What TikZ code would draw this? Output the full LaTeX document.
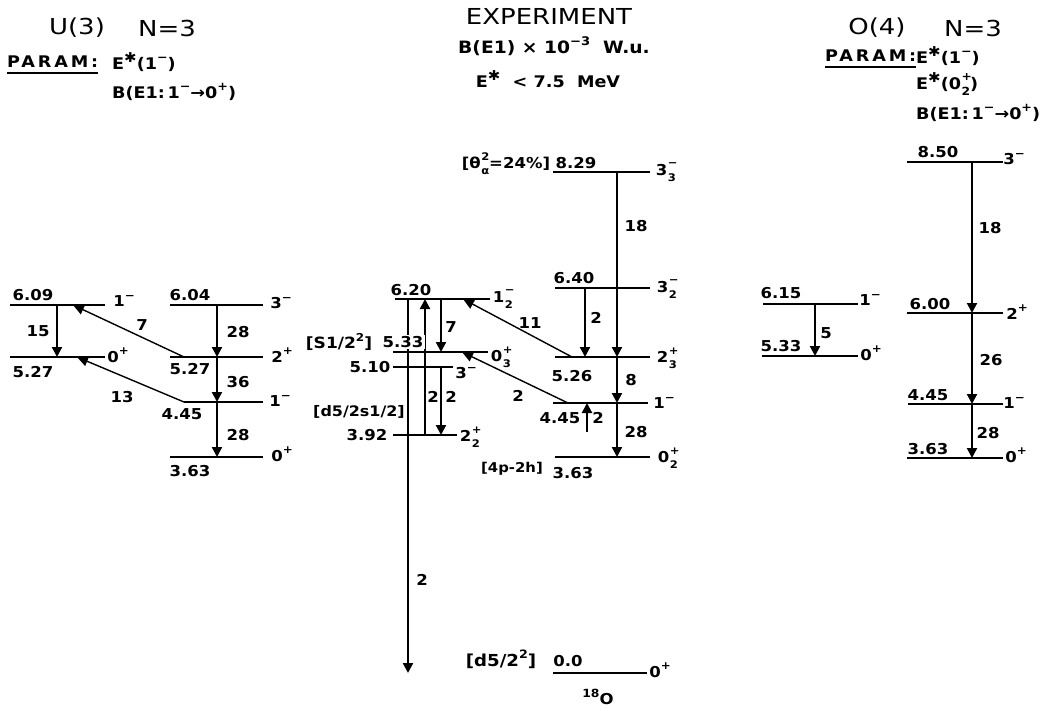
\documentclass[tikz,border=0pt]{standalone}
\usepackage{fontspec}
\setmainfont{DejaVu Sans}
\newfontfamily\wf{DejaVu Sans}[FakeStretch=1.1]
\newfontfamily\hf{DejaVu Sans}[FakeStretch=1.18]
\newfontfamily\pf{DejaVu Sans}[FakeStretch=1.1,LetterSpace=18]
\usetikzlibrary{arrows.meta}
\newcommand\sps[2]{#1\raisebox{0.5em}{\scalebox{0.72}{#2}}}
\newcommand\sss[3]{#1\kern0.5pt\rlap{\raisebox{0.55em}{\scalebox{0.7}{#2}}}\raisebox{-0.4em}{\scalebox{0.7}{#3}}}
\newcommand\Es{E\raisebox{0.42em}{\scalebox{0.85}{✱}}}
\begin{document}
\begin{tikzpicture}[x=1pt,y=-1pt,
 lvl/.style={line width=2.8pt},
 arr/.style={line width=2.1pt,-{Triangle[length=10pt,width=10pt]}},
 diag/.style={line width=1.4pt,-{Triangle[length=11pt,width=10pt]}},
 num/.style={font=\wf\bfseries\fontsize{15}{15}\selectfont,inner sep=0pt},
 jp/.style={font=\wf\bfseries\fontsize{15}{15}\selectfont,inner sep=0pt},
 hdr/.style={font=\hf\fontsize{22}{22}\selectfont,inner sep=0pt},
 prm/.style={font=\wf\bfseries\fontsize{16}{16}\selectfont,inner sep=0pt,anchor=west},
 brk/.style={font=\wf\bfseries\fontsize{15}{15}\selectfont,inner sep=0pt},
]
\useasboundingbox (0,0) rectangle (1050,710);

% ---------------- headers ----------------
\node[hdr] (u3) at (77,28) {U(3)};
\node[hdr] (un) at (167,28) {N=3};
\node[prm,font=\pf\bfseries\fontsize{16}{16}\selectfont] (upar) at (7,62) {PARAM:};
\draw[line width=2.4pt] ([yshift=-5pt]upar.south west) -- ([yshift=-5pt]upar.south east);
\node[prm] (up1) at (112,62) {\Es(\sps{1}{−})};
\node[prm] (up2) at (112,92) {B(E1:\,\sps{1}{−}→\sps{0}{+})};

\node[inner sep=0pt,font=\hf\fontsize{22}{22}\selectfont] (ex1) at (549,16) {EXPERIMENT};
\node[inner sep=0pt,anchor=west,font=\wf\bfseries\fontsize{17}{17}\selectfont] (ex2) at (458,46) {B(E1) × 10\raisebox{0.5em}{\scalebox{0.7}{−3}}\ \ W.u.};
\node[inner sep=0pt,font=\wf\bfseries\fontsize{16}{16}\selectfont] (ex3) at (548,79) {\Es\ \ <\ 7.5\ \ MeV};

\node[hdr] (o4) at (877,28) {O(4)};
\node[hdr] (on) at (973,28) {N=3};
\node[prm,font=\pf\bfseries\fontsize{16}{16}\selectfont] (opar) at (825,56) {PARAM:};
\draw[line width=2.4pt] ([yshift=-5pt]opar.south west) -- ([yshift=-5pt]opar.south east);
\node[prm] (op1) at (916,56) {\Es(\sps{1}{−})};
\node[prm] (op2) at (916,84) {\Es(\sss{0}{+}{2})};
\node[prm] (op3) at (916,113) {B(E1:\,\sps{1}{−}→\sps{0}{+})};

% ---------------- U(3) ----------------
\coordinate (A1) at (10,305);  \draw[lvl] (A1) -- ++(95,0);
\coordinate (A2) at (10,357);  \draw[lvl] (A2) -- ++(95,0);
\coordinate (B1) at (170,305); \draw[lvl] (B1) -- ++(93,0);
\coordinate (B2) at (170,357); \draw[lvl] (B2) -- ++(93,0);
\coordinate (B3) at (184,402); \draw[lvl] (B3) -- ++(79,0);
\coordinate (B4) at (170,457); \draw[lvl] (B4) -- ++(93,0);
\coordinate (ca) at (57,0);
\coordinate (cb) at (217,0);
\coordinate (d1s) at (184,0);
\coordinate (d1e) at (73,0);
\coordinate (d2e) at (77,0);
\draw[arr] (ca |- A1) -- (ca |- A2);
\draw[arr] (cb |- B1) -- (cb |- B2);
\draw[arr] (cb |- B2) -- (cb |- B3);
\draw[arr] (cb |- B3) -- (cb |- B4);
\draw[diag] (d1s |- B2) -- (d1e |- A1);
\draw[diag] (d1s |- B3) -- (d2e |- A2);
\node[num] (t609) at (33,295) {6.09};
\node[jp] (s1a) at (124,301) {\sps{1}{−}};
\node[num] (b15) at (38,331) {15};
\node[jp] (s0a) at (118,355) {\sps{0}{+}};
\node[num] (t527a) at (33,372) {5.27};
\node[num] (b7a) at (142,325) {7};
\node[num] (b13) at (122,397) {13};
\node[num] (t604) at (190,295) {6.04};
\node[jp] (s3b) at (281,303) {\sps{3}{−}};
\node[num] (b28a) at (238,332) {28};
\node[jp] (s2b) at (282,355) {\sps{2}{+}};
\node[num] (t527b) at (190,369) {5.27};
\node[num] (b36) at (238,382) {36};
\node[jp] (s1b) at (280,401) {\sps{1}{−}};
\node[num] (t445a) at (182,414) {4.45};
\node[num] (b28b) at (238,435) {28};
\node[jp] (s0b) at (282,454) {\sps{0}{+}};
\node[num] (t363a) at (190,471) {3.63};

% ---------------- Experiment ----------------
\coordinate (E829) at (553,172); \draw[lvl] (E829) -- ++(97,0);
\coordinate (E640) at (555,288); \draw[lvl] (E640) -- ++(95,0);
\coordinate (E526) at (555,357); \draw[lvl] (E526) -- ++(95,0);
\coordinate (E445) at (553,403); \draw[lvl] (E445) -- ++(95,0);
\coordinate (E363) at (555,457); \draw[lvl] (E363) -- ++(95,0);
\coordinate (E620) at (395,299); \draw[lvl] (E620) -- ++(95,0);
\coordinate (E533) at (393,352); \draw[lvl] (E533) -- ++(95,0);
\coordinate (E510) at (393,367); \draw[lvl] (E510) -- ++(60,0);
\coordinate (E392) at (393,435); \draw[lvl] (E392) -- ++(64,0);
\coordinate (E00) at (553,673);  \draw[lvl] (E00) -- ++(94,0);

\coordinate (cm) at (617,0);
\coordinate (cl) at (585,0);
\coordinate (cu) at (587,0);
\coordinate (cg) at (408,0);
\coordinate (cup) at (425,0);
\coordinate (cdn) at (441,0);
\coordinate (uab) at (587,432);
\coordinate (g11s) at (572,0);
\coordinate (g11e) at (463,0);
\coordinate (g2s) at (568,0);
\coordinate (g2e) at (462,0);

\draw[arr] (cm |- E829) -- (cm |- E526);
\draw[arr] (cl |- E640) -- (cl |- E526);
\draw[arr] (cm |- E526) -- (cm |- E445);
\draw[arr] (cm |- E445) -- (cm |- E363);
\draw[arr] (uab) -- (cu |- E445);
\draw[diag] (g11s |- E526) -- (g11e |- E620);
\draw[diag] (g2s |- E445) -- (g2e |- E533);
\draw[arr] (cg |- E620) -- (cg |- E00);
\draw[arr] (cup |- E392) -- (cup |- E620);
\draw[arr] (cdn |- E620) -- (cdn |- E533);
\draw[arr] (cdn |- E510) -- (cdn |- E392);

\node[brk] (theta) at (506,164) {[θ\sss{}{2}{α}=24\%]};
\node[num] (t829) at (576,163) {8.29};
\node[jp] (s33) at (666,172) {\sss{3}{−}{3}};
\node[num] (b18e) at (636,226) {18};
\node[num] (t640) at (574,278) {6.40};
\node[jp] (s32) at (667,289) {\sss{3}{−}{2}};
\node[num] (b2a) at (596,318) {2};
\node[jp] (s23) at (667,358) {\sss{2}{+}{3}};
\node[num] (t526) at (572,376) {5.26};
\node[num] (b8) at (631,380) {8};
\node[jp] (s1e) at (664,403) {\sps{1}{−}};
\node[num] (t445e) at (560,418) {4.45};
\node[num] (b2b) at (598,418) {2};
\node[num] (b28e) at (636,432) {28};
\node[jp] (s02) at (668,458) {\sss{0}{+}{2}};
\node[num] (t363e) at (573,473) {3.63};
\node[brk,font=\wf\bfseries\fontsize{13.5}{13.5}\selectfont] (p4) at (512,469) {[4p-2h]};
\node[num] (b11) at (530,323) {11};
\node[num] (b2c) at (518,396) {2};

\node[num] (t620) at (411,290) {6.20};
\node[jp] (s12) at (503,299) {\sss{1}{−}{2}};
\node[num,fill=white,inner sep=1.5pt] (t533) at (403,342) {5.33};
\node[brk,font=\wf\bfseries\fontsize{15.5}{15.5}\selectfont] (s12sq) at (339,342) {[S1/2\raisebox{0.5em}{\scalebox{0.7}{2}}]};
\node[jp] (s03) at (501,357) {\sss{0}{+}{3}};
\node[num] (t510) at (370,367) {5.10};
\node[jp] (s3c) at (466,373) {\sps{3}{−}};
\node[num] (b7e) at (451,327) {7};
\node[num] (b2d) at (433,397) {2};
\node[num] (b2e) at (451,397) {2};
\node[brk,font=\wf\bfseries\fontsize{14.5}{14.5}\selectfont] (dsq) at (359,412) {[d5/2s1/2]};
\node[num] (t392) at (367,435) {3.92};
\node[jp] (s22) at (470,437) {\sss{2}{+}{2}};
\node[num] (b2f) at (422,580) {2};

\node[brk,font=\wf\bfseries\fontsize{16.5}{16.5}\selectfont] (d52) at (501,659) {[d5/2\raisebox{0.5em}{\scalebox{0.7}{2}}]};
\node[num] (t00) at (568,661) {0.0};
\node[jp] (s0g) at (660,670) {\sps{0}{+}};
\node[jp] (o18) at (598,697) {\raisebox{0.5em}{\scalebox{0.75}{18}}O};

% ---------------- O(4) ----------------
\coordinate (R615) at (763,304); \draw[lvl] (R615) -- ++(95,0);
\coordinate (R533) at (762,356); \draw[lvl] (R533) -- ++(96,0);
\coordinate (R850) at (907,162); \draw[lvl] (R850) -- ++(96,0);
\coordinate (R600) at (907,313); \draw[lvl] (R600) -- ++(96,0);
\coordinate (R445) at (908,404); \draw[lvl] (R445) -- ++(95,0);
\coordinate (R363) at (907,458); \draw[lvl] (R363) -- ++(96,0);
\coordinate (cr1) at (815,0);
\coordinate (cr2) at (972,0);
\draw[arr] (cr1 |- R615) -- (cr1 |- R533);
\draw[arr] (cr2 |- R850) -- (cr2 |- R600);
\draw[arr] (cr2 |- R600) -- (cr2 |- R445);
\draw[arr] (cr2 |- R445) -- (cr2 |- R363);
\node[num] (t615) at (781,293) {6.15};
\node[jp] (s1r) at (870,300) {\sps{1}{−}};
\node[num] (b5) at (826,333) {5};
\node[num] (t533r) at (781,346) {5.33};
\node[jp] (s0r) at (871,353) {\sps{0}{+}};
\node[num] (t850) at (938,152) {8.50};
\node[jp] (s3r) at (1014,159) {\sps{3}{−}};
\node[num] (b18r) at (990,228) {18};
\node[num] (t600) at (930,304) {6.00};
\node[jp] (s2r) at (1017,312) {\sps{2}{+}};
\node[num] (b26) at (991,360) {26};
\node[num] (t445r) at (928,395) {4.45};
\node[jp] (s1r2) at (1014,403) {\sps{1}{−}};
\node[num] (b28r) at (988,433) {28};
\node[num] (t363r) at (928,449) {3.63};
\node[jp] (s0r2) at (1016,455) {\sps{0}{+}};
\end{tikzpicture}
\end{document}
